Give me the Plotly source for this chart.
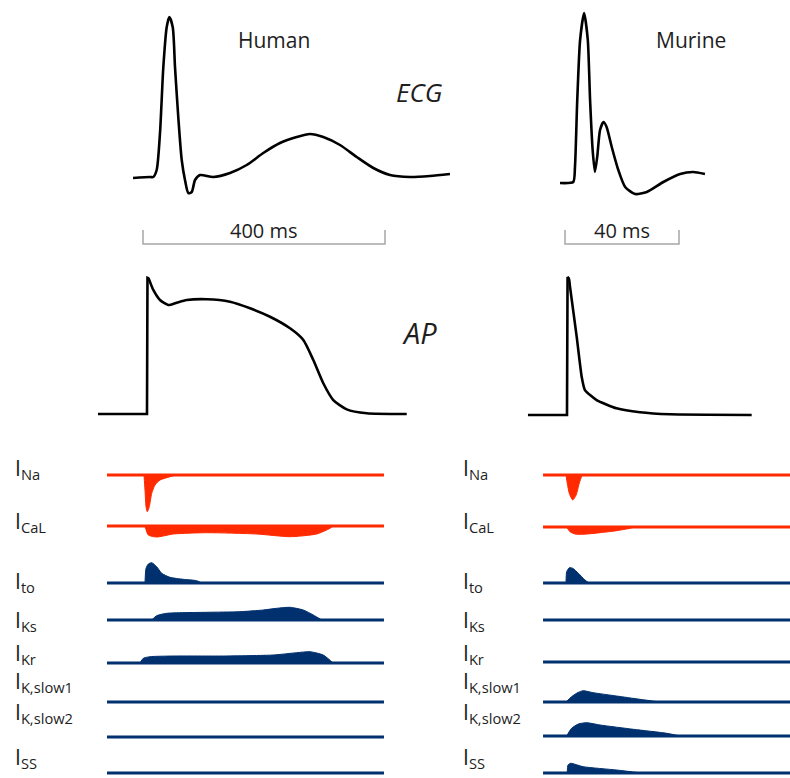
import plotly.graph_objects as go

# ---------------- data (time in ms, ECG in mV, AP in mV, currents in a.u.) ----------------
human_ecg_t = [-16.5, 11.6, 17.0, 22.6, 28.1, 33.6, 39.2, 43.5, 49.1, 52.9, 58.3, 64.0, 69.4, 74.9,
               80.5, 86.0, 94.2, 116.2, 143.8, 171.4, 198.8, 226.4, 254.0, 276.0, 298.0, 325.6,
               353.2, 380.7, 408.3, 441.3, 474.4, 507.4]
human_ecg_v = [-0.01, 0.00, 0.00, 0.07, 0.44, 1.10, 1.50, 1.60, 1.50, 1.10, 0.60, 0.17, -0.03, -0.16,
               -0.15, -0.03, 0.02, 0.00, 0.04, 0.12, 0.24, 0.34, 0.40, 0.43, 0.40, 0.32,
               0.20, 0.09, 0.02, 0.00, 0.01, 0.03]

murine_ecg_t = [-1.75, 2.9, 3.5, 4.3, 5.3, 6.7, 8.0, 8.8, 9.7, 10.5, 11.3, 12.3, 13.5, 14.6, 16.4,
                18.7, 21.1, 24.6, 28.7, 34.5, 40.4, 45.0, 49.1]
murine_ecg_v = [-0.02, -0.01, 0.14, 0.81, 1.41, 1.68, 1.41, 0.81, 0.31, 0.09, 0.24, 0.51, 0.59, 0.54,
                0.34, 0.11, -0.06, -0.13, -0.11, -0.01, 0.07, 0.09, 0.07]

human_ap_t = [-74.4, 6.6, 7.4, 8.8, 17.0, 28.1, 41.8, 55.7, 72.2, 105.3, 143.8, 176.9, 209.9, 243.0,
              265.0, 281.5, 298.0, 314.5, 336.7, 369.8, 435.9]
human_ap_v = [-85, -85, 35.0, 34.7, 24.4, 15.5, 11.1, 13.2, 15.5, 16.2, 14.0, 8.2, 0.8, -9.4,
              -19.7, -37.4, -57.9, -72.7, -80.9, -84.4, -85]

murine_ap_t = [-13.0, 0.7, 0.9, 1.4, 1.75, 4.1, 5.85, 7.0, 11.1, 18.1, 26.3, 36.8, 65.5]
murine_ap_v = [-85, -85, 36.7, 35.0, 28.2, -15.9, -51.2, -63.0, -71.8, -79.1, -82.6, -84.4, -85]

current_labels = ["I<sub>Na</sub>", "I<sub>CaL</sub>", "I<sub>to</sub>", "I<sub>Ks</sub>",
                  "I<sub>Kr</sub>", "I<sub>K,slow1</sub>", "I<sub>K,slow2</sub>", "I<sub>SS</sub>"]
current_kind = ["inward", "inward", "outward", "outward", "outward", "outward", "outward", "outward"]

human_ina_t = [1.65, 3.3, 5.0, 7.1, 10.4, 14.4, 19.8, 28.1, 44.6, 55.7]
human_ina_a = [0, -15, -31.7, -36.7, -31.7, -18.3, -10, -5, -1.7, 0]
human_ical_t = [3.3, 8.8, 22.6, 50.1, 105.3, 187.9, 243.0, 287.1, 309.1, 314.0]
human_ical_a = [0, -9, -11, -8, -6.7, -8, -10.7, -8, -2.3, 0]
human_ito_t = [3.3, 5.0, 8.8, 14.4, 22.6, 30.9, 44.6, 66.6, 88.8, 97.0]
human_ito_a = [0, 14.7, 19, 20.3, 16.3, 9.7, 5.7, 3.7, 2.3, 0]
human_iks_t = [14.4, 22.6, 39.2, 105.3, 160.3, 198.8, 221.0, 243.0, 265.0, 281.5, 295.4]
human_iks_a = [0, 4.3, 6.7, 7.7, 8.3, 10, 11.7, 12.7, 10, 5, 0]
human_ikr_t = [-5.0, 0.5, 11.6, 50.1, 132.7, 215.4, 254.0, 276.0, 298.0, 311.9, 314.5]
human_ikr_a = [0, 4.7, 6.3, 7, 7, 8, 10.3, 11.3, 8, 1.3, 0]
human_ikslow1_t, human_ikslow1_a = [], []
human_ikslow2_t, human_ikslow2_a = [], []
human_iss_t, human_iss_a = [], []

murine_ina_t = [0.35, 0.8, 1.5, 2.7, 3.9, 5.0, 5.9, 6.2]
murine_ina_a = [0, -8.3, -18.3, -25, -20, -8.3, -1, 0]
murine_ical_t = [0.6, 1.75, 3.5, 6.4, 12.3, 18.1, 22.8, 24.0]
murine_ical_a = [0, -4.7, -7, -7.3, -5.7, -3.7, -1.3, 0]
murine_ito_t = [0.35, 0.6, 1.5, 2.7, 4.7, 7.0, 8.5]
murine_ito_a = [0, 11.3, 15.3, 14.7, 9.7, 3, 0]
murine_iks_t, murine_iks_a = [], []
murine_ikr_t, murine_ikr_a = [], []
murine_ikslow1_t = [0.35, 2.3, 4.7, 6.4, 9.9, 18.1, 26.3, 33.3]
murine_ikslow1_a = [0, 5.3, 9.7, 11.3, 9.3, 6, 2.7, 0]
murine_ikslow2_t = [0.6, 2.3, 4.7, 7.6, 12.3, 24.0, 35.7, 40.4]
murine_ikslow2_a = [0, 7.7, 12, 13.3, 11, 6.7, 2.7, 0]
murine_iss_t = [0.8, 1.05, 2.0, 6.4, 18.1, 26.9]
murine_iss_a = [0, 8, 9.7, 6.3, 3, 0]

human_current_span = [-59.5, 398.3]
murine_current_span = [-7.7, 80.0]

human_scale_ms = 400
murine_scale_ms = 40

# ---------------- layout geometry ----------------
W, H = 790, 778
RED = "#ff2a00"
BLUE = "#00306e"
GREY = "#a6a6a6"
FONT = "Open Sans"

human_cur = list(zip(
    [human_ina_t, human_ical_t, human_ito_t, human_iks_t, human_ikr_t, human_ikslow1_t, human_ikslow2_t, human_iss_t],
    [human_ina_a, human_ical_a, human_ito_a, human_iks_a, human_ikr_a, human_ikslow1_a, human_ikslow2_a, human_iss_a]))
murine_cur = list(zip(
    [murine_ina_t, murine_ical_t, murine_ito_t, murine_iks_t, murine_ikr_t, murine_ikslow1_t, murine_ikslow2_t, murine_iss_t],
    [murine_ina_a, murine_ical_a, murine_ito_a, murine_iks_a, murine_ikr_a, murine_ikslow1_a, murine_ikslow2_a, murine_iss_a]))

human_base_px = [475, 526, 583, 620, 663, 702, 737, 773]
murine_base_px = [475, 527, 583, 620, 662, 702, 736, 773]
label_mid_px = [469, 522, 582, 621, 654, 682, 713, 758]


def xaxis_cfg(px0, px1, origin_px, px_per_ms):
    return dict(domain=[px0 / W, px1 / W],
                range=[(px0 - origin_px) / px_per_ms, (px1 - origin_px) / px_per_ms],
                visible=False, fixedrange=True)


def yaxis_cfg(top_px, bot_px, base_px, base_val, px_per_unit, anchor):
    top_px = max(0, top_px)
    bot_px = min(H, bot_px)
    return dict(domain=[1 - bot_px / H, 1 - top_px / H],
                range=[base_val - (bot_px - base_px) / px_per_unit,
                       base_val + (base_px - top_px) / px_per_unit],
                visible=False, fixedrange=True, anchor=anchor)


layout = dict(width=W, height=H, margin=dict(l=0, r=0, t=0, b=0),
              paper_bgcolor="white", plot_bgcolor="rgba(0,0,0,0)", showlegend=False)
layout["xaxis"] = xaxis_cfg(0, 460, 143, 0.605)
layout["xaxis2"] = xaxis_cfg(460, 790, 565, 2.85)
layout["xaxis"]["anchor"] = "y"
layout["xaxis2"]["anchor"] = "y2"

fig = go.Figure()
axis_count = [0]


def new_y(top_px, bot_px, base_px, base_val, px_per_unit, anchor):
    axis_count[0] += 1
    n = axis_count[0]
    key = "yaxis" if n == 1 else f"yaxis{n}"
    layout[key] = yaxis_cfg(top_px, bot_px, base_px, base_val, px_per_unit, anchor)
    return "y" if n == 1 else f"y{n}"


LW = 2.6
# ECG
y_hecg = new_y(0, 215, 177, 0.0, 100, "x")
y_mecg = new_y(0, 215, 181, 0.0, 100, "x2")
fig.add_trace(go.Scatter(x=human_ecg_t, y=human_ecg_v, xaxis="x", yaxis=y_hecg, mode="lines",
                         line=dict(color="black", width=LW, shape="spline", smoothing=0.7)))
fig.add_trace(go.Scatter(x=murine_ecg_t, y=murine_ecg_v, xaxis="x2", yaxis=y_mecg, mode="lines",
                         line=dict(color="black", width=LW, shape="spline", smoothing=0.6)))

# scale bars
y_bar = new_y(218, 252, 244, 0.0, 14, "x")
fig.add_trace(go.Scatter(x=[0, 0, human_scale_ms, human_scale_ms], y=[1, 0, 0, 1], xaxis="x", yaxis=y_bar,
                         mode="lines", line=dict(color=GREY, width=1.5)))
fig.add_trace(go.Scatter(x=[0, 0, murine_scale_ms, murine_scale_ms], y=[1, 0, 0, 1], xaxis="x2", yaxis=y_bar,
                         mode="lines", line=dict(color=GREY, width=1.5)))

# AP: resting level + upstroke drawn straight, repolarisation drawn smooth
y_hap = new_y(255, 432, 414, -85, 1 / 0.882, "x")
y_map = new_y(255, 432, 415, -85, 1 / 0.882, "x2")
for xa, ya, tt, vv, sm in [("x", y_hap, human_ap_t, human_ap_v, 0.6),
                           ("x2", y_map, murine_ap_t, murine_ap_v, 0.5)]:
    fig.add_trace(go.Scatter(x=tt[:4], y=vv[:4], xaxis=xa, yaxis=ya, mode="lines",
                             line=dict(color="black", width=LW)))
    fig.add_trace(go.Scatter(x=tt[2:], y=vv[2:], xaxis=xa, yaxis=ya, mode="lines",
                             line=dict(color="black", width=LW, shape="spline", smoothing=sm)))

# currents
for xa, curs, bases, span in [("x", human_cur, human_base_px, human_current_span),
                              ("x2", murine_cur, murine_base_px, murine_current_span)]:
    for i, (tt, aa) in enumerate(curs):
        col = RED if current_kind[i] == "inward" else BLUE
        ya = new_y(bases[i] - 40, bases[i] + 40, bases[i], 0.0, 1.0, xa)
        if tt:
            fig.add_trace(go.Scatter(x=tt, y=aa, xaxis=xa, yaxis=ya, mode="lines", fill="tozeroy",
                                     fillcolor=col, line=dict(color=col, width=1, shape="spline", smoothing=0.6)))
        fig.add_trace(go.Scatter(x=span, y=[0, 0], xaxis=xa, yaxis=ya, mode="lines",
                                 line=dict(color=col, width=3)))

# annotations
ann = []
txt = "#1e1e1e"
ann.append(dict(text="Human", x=274 / W, y=1 - 40 / H, xref="paper", yref="paper", showarrow=False,
                font=dict(family=FONT, size=21, color=txt), xanchor="center", yanchor="middle"))
ann.append(dict(text="Murine", x=691 / W, y=1 - 40 / H, xref="paper", yref="paper", showarrow=False,
                font=dict(family=FONT, size=21, color=txt), xanchor="center", yanchor="middle"))
ann.append(dict(text="<i>ECG</i>", x=420 / W, y=1 - 92 / H, xref="paper", yref="paper", showarrow=False,
                font=dict(family=FONT, size=26, color=txt), xanchor="center", yanchor="middle"))
ann.append(dict(text="<i>AP</i>", x=420 / W, y=1 - 333 / H, xref="paper", yref="paper", showarrow=False,
                font=dict(family=FONT, size=29, color=txt), xanchor="center", yanchor="middle"))
ann.append(dict(text=f"{human_scale_ms} ms", x=human_scale_ms / 2, y=1.0, xref="x", yref=y_bar,
                showarrow=False, font=dict(family=FONT, size=20, color=txt), xanchor="center", yanchor="middle"))
ann.append(dict(text=f"{murine_scale_ms} ms", x=murine_scale_ms / 2, y=1.0, xref="x2", yref=y_bar,
                showarrow=False, font=dict(family=FONT, size=20, color=txt), xanchor="center", yanchor="middle"))
for lx in [13, 461]:
    for i, lab in enumerate(current_labels):
        ann.append(dict(text=lab, x=lx / W, y=1 - label_mid_px[i] / H, xref="paper", yref="paper",
                        showarrow=False, font=dict(family=FONT, size=21, color=txt),
                        xanchor="left", yanchor="middle"))
layout["annotations"] = ann

fig.update_layout(**layout)
fig.write_html("out.html")
